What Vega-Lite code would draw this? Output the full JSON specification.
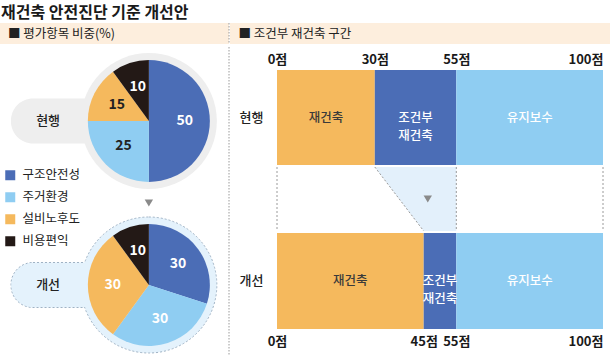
{
  "$schema": "https://vega.github.io/schema/vega-lite/v6.json",
  "padding": {"left": 0, "top": 4, "right": 0, "bottom": 0},
  "background": "white",
  "title": {"text": "재건축 안전진단 기준 개선안", "anchor": "start", "frame": "bounds", "fontSize": 16, "fontWeight": "bold", "font": "Noto Sans CJK KR", "color": "#1a1a1a", "offset": 2, "dx": 1},
  "config": {"view": {"stroke": null}, "font": "Noto Sans CJK KR", "axis": {"grid": false}},
  "resolve": {"scale": {"color": "independent"}, "legend": {"color": "independent"}},
  "datasets": {
    "weights": [
      {"plan": "현행", "item": "구조안전성", "rank": 1, "value": 50},
      {"plan": "현행", "item": "주거환경", "rank": 2, "value": 25},
      {"plan": "현행", "item": "설비노후도", "rank": 3, "value": 15},
      {"plan": "현행", "item": "비용편익", "rank": 4, "value": 10},
      {"plan": "개선", "item": "구조안전성", "rank": 1, "value": 30},
      {"plan": "개선", "item": "주거환경", "rank": 2, "value": 30},
      {"plan": "개선", "item": "설비노후도", "rank": 3, "value": 30},
      {"plan": "개선", "item": "비용편익", "rank": 4, "value": 10}
    ],
    "zones": [
      {"plan": "현행", "zone": "재건축", "start": 0, "end": 30},
      {"plan": "현행", "zone": "조건부 재건축", "start": 30, "end": 55},
      {"plan": "현행", "zone": "유지보수", "start": 55, "end": 100},
      {"plan": "개선", "zone": "재건축", "start": 0, "end": 45},
      {"plan": "개선", "zone": "조건부 재건축", "start": 45, "end": 55},
      {"plan": "개선", "zone": "유지보수", "start": 55, "end": 100}
    ],
    "plans": [{"plan": "현행"}, {"plan": "개선"}],
    "bounds": [{"score": 0}, {"score": 55}, {"score": 100}]
  },
  "spacing": 0,
  "hconcat": [
    {
      "spacing": 1,
      "vconcat": [
        {
          "width": 229, "height": 21,
          "view": {"fill": "#fdeedd", "stroke": null},
          "data": {"values": [{"section": "■ 평가항목 비중(%)"}]},
          "layer": [
            {"mark": {"type": "text", "align": "left", "baseline": "middle", "fontSize": 12.5, "color": "#222"},
             "encoding": {"x": {"datum": 0.035, "type": "quantitative", "scale": {"domain": [0, 1], "nice": false}, "axis": null}, "text": {"field": "section"}}},
            {"mark": {"type": "rule", "color": "#9a9a9a", "strokeDash": [1.5, 1.5]},
             "encoding": {"x": {"datum": 1, "type": "quantitative"}}}
          ]
        },
        {
          "width": 229, "height": 312,
          "layer": [
            {"data": {"name": "plans"},
             "mark": {"type": "bar", "orient": "horizontal", "height": 45, "cornerRadius": 22, "strokeDash": [2, 2], "strokeWidth": 1},
             "encoding": {
               "x": {"datum": 0.048, "type": "quantitative", "scale": {"domain": [0, 1], "nice": false}, "axis": null},
               "x2": {"datum": 0.65},
               "y": {"field": "plan", "type": "nominal", "scale": {"type": "point", "domain": ["현행", "개선"], "range": [74, 238], "padding": 0}, "axis": null},
               "fill": {"condition": {"test": "datum.plan == '현행'", "value": "#eeeeee"}, "value": "#e4f2fc"},
               "stroke": {"condition": {"test": "datum.plan == '개선'", "value": "#9fb2c4"}, "value": "transparent"}
             }},
            {"data": {"name": "plans"},
             "mark": {"type": "arc", "outerRadius": 68, "theta": 0, "theta2": 6.2832, "strokeDash": [2, 2], "strokeWidth": 1},
             "encoding": {
               "x": {"datum": 0.65, "type": "quantitative"},
               "y": {"field": "plan", "type": "nominal"},
               "fill": {"condition": {"test": "datum.plan == '현행'", "value": "#eeeeee"}, "value": "#e4f2fc"},
               "stroke": {"condition": {"test": "datum.plan == '개선'", "value": "#9fb2c4"}, "value": "transparent"}
             }},
            {"data": {"name": "plans"},
             "mark": {"type": "bar", "orient": "horizontal", "height": 44, "cornerRadius": 22},
             "encoding": {
               "x": {"datum": 0.05, "type": "quantitative"},
               "x2": {"datum": 0.65},
               "y": {"field": "plan", "type": "nominal"},
               "fill": {"condition": {"test": "datum.plan == '현행'", "value": "#eeeeee"}, "value": "#e4f2fc"}
             }},
            {"data": {"name": "weights"},
             "transform": [{"filter": "datum.plan == '현행'"}],
             "mark": {"type": "arc", "outerRadius": 61},
             "encoding": {
               "x": {"datum": 0.65, "type": "quantitative"},
               "y": {"field": "plan", "type": "nominal"},
               "theta": {"field": "value", "type": "quantitative", "stack": true},
               "order": {"field": "rank", "type": "quantitative"},
               "color": {"field": "item", "type": "nominal",
                 "scale": {"domain": ["구조안전성", "주거환경", "설비노후도", "비용편익"], "range": ["#4b6db6", "#8fcdf2", "#f5b95d", "#231916"]},
                 "legend": {"orient": "none", "legendX": 4, "legendY": 146, "title": null, "symbolType": "square", "symbolSize": 100, "symbolStrokeWidth": 0, "labelFontSize": 12.5, "labelColor": "#222", "rowPadding": 9, "labelOffset": 6}}
             }},
            {"data": {"name": "weights"},
             "transform": [{"filter": "datum.plan == '개선'"}],
             "mark": {"type": "arc", "outerRadius": 61},
             "encoding": {
               "x": {"datum": 0.65, "type": "quantitative"},
               "y": {"field": "plan", "type": "nominal"},
               "theta": {"field": "value", "type": "quantitative", "stack": true},
               "order": {"field": "rank", "type": "quantitative"},
               "color": {"field": "item", "type": "nominal"}
             }},
            {"data": {"name": "weights"},
             "transform": [{"filter": "datum.plan == '현행'"}],
             "mark": {"type": "text", "radius": 36, "fontSize": 14, "fontWeight": "bold"},
             "encoding": {
               "x": {"datum": 0.65, "type": "quantitative"},
               "y": {"field": "plan", "type": "nominal"},
               "theta": {"field": "value", "type": "quantitative", "stack": true},
               "order": {"field": "rank", "type": "quantitative"},
               "text": {"field": "value"},
               "color": {"condition": {"test": "datum.item == '주거환경' || datum.item == '설비노후도'", "value": "#222222"}, "value": "white"}
             }},
            {"data": {"name": "weights"},
             "transform": [{"filter": "datum.plan == '개선'"}],
             "mark": {"type": "text", "radius": 36, "fontSize": 14, "fontWeight": "bold"},
             "encoding": {
               "x": {"datum": 0.65, "type": "quantitative"},
               "y": {"field": "plan", "type": "nominal"},
               "theta": {"field": "value", "type": "quantitative", "stack": true},
               "order": {"field": "rank", "type": "quantitative"},
               "text": {"field": "value"},
               "color": {"value": "white"}
             }},
            {"data": {"name": "plans"},
             "mark": {"type": "text", "fontSize": 13, "fontWeight": 500, "color": "#222"},
             "encoding": {
               "x": {"datum": 0.21, "type": "quantitative"},
               "y": {"field": "plan", "type": "nominal"},
               "text": {"field": "plan"}
             }},
            {"data": {"values": [{}]},
             "mark": {"type": "point", "shape": "triangle-down", "filled": true, "size": 70, "color": "#8a8a8a", "opacity": 1},
             "encoding": {"x": {"datum": 0.65, "type": "quantitative"}}},
            {"data": {"values": [{}]},
             "mark": {"type": "rule", "color": "#9a9a9a", "strokeDash": [1.5, 1.5]},
             "encoding": {"x": {"datum": 1, "type": "quantitative"}}}
          ]
        }
      ]
    },
    {
      "spacing": 9,
      "resolve": {"scale": {"color": "independent"}, "legend": {"color": "independent"}},
      "vconcat": [
        {
          "width": 381, "height": 21,
          "view": {"fill": "#fdeedd", "stroke": null},
          "data": {"values": [{"section": "■ 조건부 재건축 구간"}]},
          "mark": {"type": "text", "align": "left", "baseline": "middle", "fontSize": 12.5, "color": "#222"},
          "encoding": {"x": {"datum": 0.022, "type": "quantitative", "scale": {"domain": [0, 1], "nice": false}, "axis": null}, "text": {"field": "section"}}
        },
        {
          "spacing": 0,
          "vconcat": [
            {
              "width": 381, "height": 95,
              "data": {"name": "zones"},
              "transform": [{"filter": "datum.plan == '현행'"}],
              "layer": [
                {"mark": {"type": "bar"},
                 "encoding": {
                   "x": {"field": "start", "type": "quantitative", "scale": {"domain": [0, 100], "range": [47, 373], "nice": false, "zero": false},
                     "axis": {"orient": "top", "values": [0, 30, 55, 100], "labelExpr": "datum.label + '점'", "ticks": false, "domain": false, "grid": false, "title": null, "labelFontSize": 13, "labelFontWeight": "bold", "labelColor": "#1a1a1a", "labelPadding": 4, "labelFlush": false, "labelAlign": {"expr": "datum.value == 100 ? 'right' : 'center'"}}},
                   "x2": {"field": "end"},
                   "y": {"field": "plan", "type": "nominal", "scale": {"paddingInner": 0, "paddingOuter": 0}, "axis": {"title": null, "ticks": false, "domain": false, "offset": -47, "labelPadding": 14, "labelFontSize": 13, "labelColor": "#222", "labelFontWeight": 500}},
                   "color": {"field": "zone", "type": "nominal", "scale": {"domain": ["재건축", "조건부 재건축", "유지보수"], "range": ["#f5b95d", "#4b6db6", "#8fcdf2"]}, "legend": null}
                 }},
                {"transform": [{"fold": ["start", "end"], "as": ["edge", "pos"]}],
                 "mark": {"type": "text", "fontSize": 12.5, "lineBreak": " ", "lineHeight": 18, "fontWeight": 500},
                 "encoding": {
                   "x": {"field": "pos", "aggregate": "mean", "type": "quantitative", "title": null},
                   "y": {"field": "plan", "type": "nominal", "title": null},
                   "text": {"field": "zone"},
                   "color": {"condition": {"test": "datum.zone == '재건축'", "value": "#3a3a3a"}, "value": "white"}
                 }}
              ]
            },
            {
              "width": 381, "height": 64,
              "layer": [
                {"data": {"name": "zones"},
                 "transform": [{"filter": "datum.zone == '조건부 재건축'"}],
                 "mark": {"type": "area", "orient": "horizontal", "color": "#e3f0fb", "opacity": 1},
                 "encoding": {
                   "x": {"field": "start", "type": "quantitative", "scale": {"domain": [0, 100], "range": [47, 373], "nice": false, "zero": false}, "axis": null},
                   "x2": {"field": "end"},
                   "y": {"field": "plan", "type": "nominal", "scale": {"type": "point", "domain": ["현행", "개선"], "padding": 0}, "axis": null}
                 }},
                {"data": {"name": "zones"},
                 "transform": [{"filter": "datum.zone == '조건부 재건축'"}],
                 "mark": {"type": "line", "color": "#9a9a9a", "strokeDash": [2, 2], "strokeWidth": 1},
                 "encoding": {
                   "x": {"field": "start", "type": "quantitative"},
                   "y": {"field": "plan", "type": "nominal"}
                 }},
                {"data": {"name": "bounds"},
                 "mark": {"type": "rule", "color": "#9a9a9a", "strokeDash": [2, 2], "strokeWidth": 1},
                 "encoding": {"x": {"field": "score", "type": "quantitative"}}},
                {"data": {"values": [{}]},
                 "mark": {"type": "point", "shape": "triangle-down", "filled": true, "size": 70, "color": "#8a8a8a", "opacity": 1},
                 "encoding": {"x": {"datum": 46.25, "type": "quantitative"}}}
              ]
            },
            {
              "width": 381, "height": 96,
              "data": {"name": "zones"},
              "transform": [{"filter": "datum.plan == '개선'"}],
              "layer": [
                {"mark": {"type": "bar"},
                 "encoding": {
                   "x": {"field": "start", "type": "quantitative", "scale": {"domain": [0, 100], "range": [47, 373], "nice": false, "zero": false},
                     "axis": {"orient": "bottom", "values": [0, 45, 55, 100], "labelExpr": "datum.label + '점'", "ticks": false, "domain": false, "grid": false, "title": null, "labelFontSize": 13, "labelFontWeight": "bold", "labelColor": "#1a1a1a", "labelPadding": 6, "labelFlush": false, "labelAlign": {"expr": "datum.value == 100 ? 'right' : 'center'"}}},
                   "x2": {"field": "end"},
                   "y": {"field": "plan", "type": "nominal", "scale": {"paddingInner": 0, "paddingOuter": 0}, "axis": {"title": null, "ticks": false, "domain": false, "offset": -47, "labelPadding": 14, "labelFontSize": 13, "labelColor": "#222", "labelFontWeight": 500}},
                   "color": {"field": "zone", "type": "nominal", "scale": {"domain": ["재건축", "조건부 재건축", "유지보수"], "range": ["#f5b95d", "#4b6db6", "#8fcdf2"]}, "legend": null}
                 }},
                {"transform": [{"fold": ["start", "end"], "as": ["edge", "pos"]}],
                 "mark": {"type": "text", "fontSize": 12.5, "lineBreak": " ", "lineHeight": 18, "fontWeight": 500},
                 "encoding": {
                   "x": {"field": "pos", "aggregate": "mean", "type": "quantitative", "title": null},
                   "y": {"field": "plan", "type": "nominal", "title": null},
                   "text": {"field": "zone"},
                   "color": {"condition": {"test": "datum.zone == '재건축'", "value": "#3a3a3a"}, "value": "white"}
                 }}
              ]
            }
          ]
        }
      ]
    }
  ]
}
